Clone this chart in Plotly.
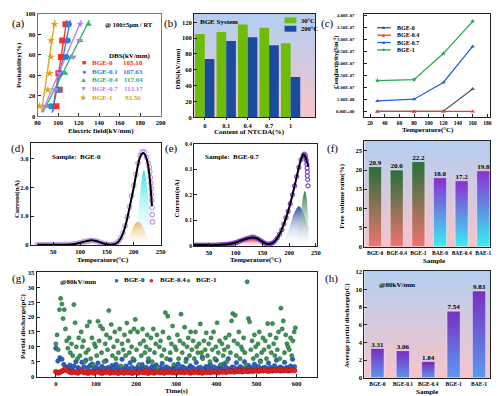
import plotly.graph_objects as go

W, H = 500, 396
FONT = "Liberation Serif"

# ================= DATA =================
# (a) Weibull distribution of breakdown strength
a_prob = [10, 26, 42, 58, 74, 90]
a_bge0 = [98.4, 101.6, 100.3, 102.8, 104.0, 107.2]
a_bge01 = [93.0, 101.0, 102.0, 108.0, 109.5, 110.5]
a_bge04 = [90.0, 98.4, 106.9, 112.8, 121.5, 129.7]
a_bge07 = [87.0, 96.9, 101.0, 115.0, 121.0, 121.5]
a_bge1 = [82.0, 90.0, 91.9, 92.8, 93.1, 96.6]
a_fit_prob = [4, 94]
a_fit_bge0 = [94.5, 108.5]
a_fit_bge01 = [94.4, 111.9]
a_fit_bge04 = [85.3, 130.6]
a_fit_bge07 = [84.4, 122.8]
a_fit_bge1 = [83.8, 96.9]
a_names = ["BGE-0", "BGE-0.1", "BGE-0.4", "BGE-0.7", "BGE-1"]
a_dbs = [105.18, 107.63, 117.04, 113.17, 93.56]

# (b) DBS at 30 / 200 C
b_content = ["0", "0.1", "0.4", "0.7", "1"]
b_30 = [105.18, 107.63, 117.04, 113.17, 93.56]
b_200 = [73.5, 96.5, 101.0, 91.0, 51.0]

# (c) conductivity
c_temp = [30, 80, 120, 160]
c_bge0 = [0.0, 0.0, 0.1e-8, 9.4e-8]
c_bge04 = [0.0, 0.0, 0.0, 0.0]
c_bge07 = [4.4e-8, 5.1e-8, 1.21e-7, 2.72e-7]
c_bge1 = [1.29e-7, 1.33e-7, 2.42e-7, 3.77e-7]
c_names = ["BGE-0", "BGE-0.4", "BGE-0.7", "BGE-1"]
c_tickvals = [0, 5e-8, 1e-7, 1.5e-7, 2e-7, 2.5e-7, 3e-7, 3.5e-7, 4e-7]
c_ticktext = ["0.00E+00", "5.00E-08", "1.00E-07", "1.50E-07", "2.00E-07",
              "2.50E-07", "3.00E-07", "3.50E-07", "4.00E-07"]

# (d) TSDC BGE-0
d_T = [20, 24, 28, 32, 36, 40, 44, 48, 52, 56, 60, 64, 68, 72, 76, 80, 84, 88, 92, 96,
       100, 104, 108, 112, 116, 120, 124, 128, 132, 136, 140, 144, 148, 152, 156, 160,
       164, 168, 172, 176, 180, 184, 188, 192, 196, 200, 204, 208, 212, 216, 220, 224,
       227, 229, 230, 231, 232, 232.5, 233, 233.5, 234, 234.5, 235]
d_I = [0, 0, 0, 0, 0, 0, 0, 0, 0, 0, 0, 0.003, 0.005, 0.006, 0.008, 0.01, 0.015, 0.025, 0.035, 0.05,
       0.07, 0.09, 0.11, 0.125, 0.14, 0.155, 0.15, 0.14, 0.12, 0.095, 0.07, 0.045, 0.025, 0.015, 0.01, 0.01,
       0.025, 0.06, 0.13, 0.25, 0.42, 0.66, 0.98, 1.33, 1.7, 2.06, 2.45, 2.85, 3.12, 3.25, 3.24, 3.05,
       2.85, 2.7, 2.55, 2.35, 2.15, 1.95, 1.75, 1.55, 1.3, 1.05, 0.8]
d_fit_T = [20, 40, 60, 70, 80, 90, 100, 110, 115, 120, 125, 130, 140, 150, 160, 165, 170, 175,
           180, 185, 190, 195, 200, 205, 210, 214, 218, 222, 226, 230, 234]
d_fit_I = [0, 0, 0, 0.005, 0.01, 0.03, 0.07, 0.12, 0.14, 0.155, 0.15, 0.13, 0.07, 0.02, 0.01, 0.03, 0.08, 0.2,
           0.4, 0.7, 1.1, 1.55, 2.0, 2.5, 2.95, 3.15, 3.2, 3.1, 2.85, 2.3, 1.35]
d_pk_orange_T = [172, 178, 184, 190, 196, 202, 208, 214, 220, 226, 232, 235]
d_pk_orange_I = [0.01, 0.035, 0.11, 0.26, 0.49, 0.71, 0.8, 0.71, 0.49, 0.26, 0.11, 0.06]
d_pk_cyan_T = [190, 194, 198, 202, 206, 210, 214, 217, 219, 222, 226, 230, 233]
d_pk_cyan_I = [0, 0.02, 0.08, 0.27, 0.69, 1.38, 2.14, 2.52, 2.6, 2.42, 1.77, 1.01, 0.56]

# (e) TSDC BGE-0.7
e_T = [22, 26, 30, 34, 38, 42, 46, 50, 54, 58, 62, 66, 70, 74, 78, 82, 86, 90, 94, 98,
       102, 106, 110, 114, 118, 122, 126, 130, 134, 138, 142, 146, 150, 154, 158, 162,
       166, 170, 174, 178, 182, 186, 190, 194, 198, 202, 206, 210, 214, 218, 222, 226,
       228, 230, 231, 232, 233, 233.5, 234, 234, 234.5, 235]
e_I = [0.002, 0.002, 0.002, 0.002, 0.002, 0.002, 0.002, 0.002, 0.002, 0.002, 0.002, 0.003, 0.003, 0.0035,
       0.004, 0.005, 0.006, 0.007, 0.009, 0.011, 0.013, 0.017, 0.02, 0.023, 0.026, 0.029, 0.031, 0.033,
       0.033, 0.03, 0.026, 0.021, 0.015, 0.01, 0.007, 0.006, 0.008, 0.012, 0.02, 0.031, 0.045, 0.062,
       0.085, 0.11, 0.135, 0.165, 0.2, 0.235, 0.272, 0.308, 0.338, 0.355,
       0.36, 0.355, 0.345, 0.335, 0.32, 0.305, 0.29, 0.275, 0.26, 0.235]
e_fit_T = [22, 40, 60, 70, 80, 90, 100, 110, 120, 125, 130, 135, 140, 145, 150, 155, 160, 165, 170,
           175, 180, 185, 190, 195, 200, 205, 210, 215, 220, 224, 227, 230, 233, 236]
e_fit_I = [0.002, 0.002, 0.002, 0.003, 0.004, 0.007, 0.012, 0.02, 0.027, 0.03, 0.032, 0.031, 0.028,
           0.022, 0.015, 0.009, 0.006, 0.007, 0.012, 0.022, 0.038, 0.058, 0.085, 0.115, 0.15, 0.19,
           0.235, 0.28, 0.325, 0.35, 0.358, 0.35, 0.33, 0.31]
e_pk_red_T = [90, 100, 110, 120, 130, 140, 150, 160, 170]
e_pk_red_I = [0.0013, 0.005, 0.014, 0.025, 0.03, 0.025, 0.014, 0.005, 0.0013]
e_pk_blue_T = [170, 178, 186, 194, 202, 210, 218, 224, 230, 236]
e_pk_blue_I = [0.0004, 0.0026, 0.011, 0.036, 0.081, 0.132, 0.155, 0.141, 0.107, 0.068]
e_pk_green_T = [205, 210, 215, 220, 224, 229, 232, 235, 237]
e_pk_green_I = [0.0006, 0.005, 0.029, 0.094, 0.167, 0.215, 0.196, 0.12, 0.03]

# (f) free volume ratio
f_samples = ["BGE-0", "BGE-0.4", "BGE-1", "BAE-0", "BAE-0.4", "BAE-1"]
f_ratio = [20.9, 20.0, 22.2, 18.0, 17.2, 19.8]

# (g) partial discharge vs time (sampling step in seconds)
g_dt_bge0 = 5
g_bge0 = [
    9.5, 5.2, 6.3, 5.8, 4.0, 3.2, 2.6, 3.8, 2.8, 3.5, 5.0, 3.0, 2.5, 4.8, 3.3, 5.5, 2.9, 3.6, 4.2, 2.7,
    3.1, 4.5, 2.6, 3.4, 2.8, 5.3, 3.0, 2.5, 3.7, 2.9, 4.1, 2.6, 3.2, 5.8, 2.8, 3.5, 2.7, 4.6, 3.0, 5.5,
    2.6, 3.3, 2.9, 4.0, 2.7, 3.1, 5.0, 2.6, 3.4, 2.8, 3.9, 2.5, 3.0, 4.4, 2.7, 3.2, 2.9, 5.6, 2.6, 3.5,
    2.8, 4.2, 2.6, 3.3, 2.9, 5.8, 2.7, 3.6, 3.0, 2.6, 4.7, 2.8, 3.1, 6.5, 2.7, 3.4, 2.9, 4.0, 2.6, 3.2,
    5.5, 2.8, 3.5, 2.7, 4.3, 3.0, 6.0, 2.6, 3.2, 2.9, 4.6, 2.7, 3.3, 2.8, 5.0, 2.6, 3.7, 3.0, 2.7, 4.1,
    2.9, 3.4, 5.2, 2.7, 3.1, 2.8, 4.5, 3.0, 2.6, 3.6, 5.5, 2.8, 3.2, 2.7, 4.8, 3.0, 2.9, 3.5, 5.8, 3.3,
]
g_dt_bge04 = 5
g_bge04 = [
    1.6, 1.2, 1.4, 1.8, 2.2, 2.5, 1.9, 1.5, 1.3, 1.7, 1.4, 1.2, 1.6, 1.9, 1.3, 1.5, 1.1, 1.7, 1.4, 1.2,
    1.5, 1.8, 1.3, 1.1, 1.6, 1.4, 1.9, 1.2, 1.5, 1.3, 1.7, 1.1, 1.4, 1.6, 1.2, 1.8, 1.3, 1.5, 1.1, 1.6,
    1.4, 1.2, 1.7, 1.5, 1.3, 1.9, 1.1, 1.6, 1.4, 1.2, 1.8, 1.5, 1.3, 1.7, 1.2, 1.6, 1.4, 1.9, 1.3, 1.5,
    1.2, 1.7, 1.4, 1.6, 1.3, 1.8, 1.5, 1.2, 1.6, 1.4, 1.9, 1.3, 1.5, 1.2, 1.7, 1.4, 1.6, 1.3, 1.8, 1.5,
    1.6, 1.3, 1.8, 1.5, 1.7, 1.4, 1.9, 1.6, 1.8, 1.5, 2.0, 1.7, 1.9, 1.6, 2.1, 1.8, 1.7, 2.0, 1.8, 1.9,
    2.0, 1.8, 2.1, 1.9, 2.2, 2.0, 1.8, 2.1, 1.9, 2.2, 2.0, 2.3, 1.9, 2.1, 2.0, 2.2, 1.9, 2.1, 2.3, 2.0,
]
g_dt_bge1 = 3
g_bge1 = [
    11, 14, 9, 22.5, 26.3, 24.4, 19.5, 22.5, 16, 12, 9.5, 13, 8, 11, 7, 24.2, 18.1, 10, 6, 13,
    7, 15, 10, 12, 5, 8, 17, 9, 18.4, 6, 13, 4, 11, 10, 7, 18.6, 12, 17, 8, 16,
    5, 11, 14, 9, 22.2, 13, 17.5, 7, 10, 15, 6, 12, 8, 16, 3.5, 11, 9, 14, 7, 18,
    12, 8, 15, 10, 6, 16, 19.2, 9, 15, 4, 11, 7, 16, 12, 8, 10, 14, 6, 9, 13,
    5, 16, 8, 11, 14, 3, 10, 12, 7, 15, 9, 21.5, 6, 20.3, 13, 8, 11, 17, 4, 10,
    9, 14, 6, 12, 21, 8, 11, 16.6, 5, 10, 13, 7, 15, 9, 12, 6, 15, 10, 8, 11,
    17.7, 8, 6, 12, 9, 14.7, 7, 11, 5, 13, 9, 15, 6, 10, 18.1, 8, 12, 4, 11, 7,
    9, 13, 5, 10, 14, 8, 18.7, 21.2, 12, 20.6, 7, 11, 15, 6, 10, 9, 13, 8, 4, 31.9,
    19.5, 18.4, 9, 12, 6, 14, 10, 7, 11, 15, 5, 8, 13, 9, 12, 6, 17.8, 10, 14, 8,
    17.8, 11, 7, 13, 9, 15, 6, 23, 16, 18.7, 8, 14, 11, 10, 9, 13, 7, 12, 15, 16.4,
]

# (h) average partial discharge
h_samples = ["BGE-0", "BGE-0.1", "BGE-0.4", "BGE-1", "BAE-1"]
h_pd = [3.31, 3.06, 1.84, 7.54, 9.83]

# ================= FIGURE =================
fig = go.Figure()


def px_x(x):
    return x / W


def px_y(y):
    return 1 - y / H


def ids(n):
    return ("x" if n == 1 else f"x{n}"), ("y" if n == 1 else f"y{n}")


TICKFONT = dict(family=FONT, size=6.5, color="black", weight="bold")


def axis_common():
    return dict(showline=True, mirror=True, linecolor="#222", linewidth=1,
                ticks="inside", ticklen=3, tickwidth=1, tickcolor="#222",
                showgrid=False, zeroline=False, tickfont=dict(TICKFONT))


axes_layout = {}
RANGES = {}


def make_axes(n, box, xr, yr, xkw=None, ykw=None):
    x0, y0, x1, y1 = box
    xa = axis_common()
    ya = axis_common()
    xid, yid = ids(n)
    xa.update(domain=[px_x(x0), px_x(x1)], range=xr, anchor=yid)
    ya.update(domain=[px_y(y1), px_y(y0)], range=yr, anchor=xid)
    if xkw:
        xa.update(xkw)
    if ykw:
        ya.update(ykw)
    axes_layout["xaxis" if n == 1 else f"xaxis{n}"] = xa
    axes_layout["yaxis" if n == 1 else f"yaxis{n}"] = ya
    RANGES[n] = (xr, yr)


def ann(text, x, y, size=7, color="black", bold=True, xanchor="center", angle=0):
    fig.add_annotation(text=text, x=px_x(x), y=px_y(y), xref="paper", yref="paper",
                       showarrow=False, xanchor=xanchor, yanchor="middle", textangle=angle,
                       font=dict(family=FONT, size=size, color=color,
                                 weight="bold" if bold else "normal"))


def background(n, c_bottom, c_top):
    xr, yr = RANGES[n]
    xid, yid = ids(n)
    fig.add_trace(go.Scatter(
        x=[xr[0], xr[1], xr[1], xr[0], xr[0]], y=[yr[0], yr[0], yr[1], yr[1], yr[0]],
        fill="toself", mode="lines", line=dict(width=0, color="rgba(0,0,0,0)"),
        fillgradient=dict(type="vertical", colorscale=[[0, c_bottom], [1, c_top]],
                          start=yr[0], stop=yr[1]),
        hoverinfo="skip", showlegend=False, xaxis=xid, yaxis=yid))


def grad_bar(n, x_left, w, v, c_bottom, c_top, edge="rgba(255,255,255,0.7)"):
    xid, yid = ids(n)
    fig.add_trace(go.Scatter(
        x=[x_left, x_left + w, x_left + w, x_left, x_left], y=[0, 0, v, v, 0],
        fill="toself", mode="lines", line=dict(width=0.6, color=edge),
        fillgradient=dict(type="vertical", colorscale=[[0, c_bottom], [1, c_top]], start=0, stop=v),
        hoverinfo="skip", showlegend=False, xaxis=xid, yaxis=yid))


def grad_peak(n, T, I, color):
    xid, yid = ids(n)
    fig.add_trace(go.Scatter(
        x=T, y=I, fill="tozeroy", mode="lines", line=dict(width=0, color="rgba(0,0,0,0)"),
        line_shape="spline",
        fillgradient=dict(type="vertical", colorscale=[[0, "rgba(255,255,255,0)"], [1, color]],
                          start=0, stop=max(I)),
        hoverinfo="skip", showlegend=False, xaxis=xid, yaxis=yid))


# ---------- axes ----------
make_axes(1, (27, 3, 152, 107), [80, 200], [0, 100],
          dict(dtick=20, tick0=80), dict(dtick=20, tick0=0))
make_axes(2, (186, 3, 309, 108), [-0.5, 5.14], [0, 130.5],
          dict(tickvals=list(range(len(b_content))), ticktext=b_content, ticks="outside", ticklen=2),
          dict(dtick=20, tick0=0))
make_axes(3, (359, 3, 487, 108), [12, 184], [-0.25e-7, 4.08e-7],
          dict(dtick=20, tick0=20, tickfont=dict(TICKFONT, size=5.5)),
          dict(tickvals=c_tickvals, ticktext=c_ticktext, tickfont=dict(TICKFONT, size=4.6),
               ticklabelstandoff=8))
make_axes(4, (20, 134, 152, 238), [8, 250], [-0.02, 3.55],
          dict(tickvals=[50, 100, 150, 200, 250]),
          dict(tickvals=[0, 1, 2, 3], ticktext=["0", "1.0", "2.0", "3.0"]))
make_axes(5, (186, 135, 311, 239), [22, 252], [-0.003, 0.4],
          dict(tickvals=[50, 100, 150, 200, 250]),
          dict(tickvals=[0, 0.1, 0.2, 0.3, 0.4], ticktext=["0", "0.1", "0.2", "0.3", "0.4"],
               tickfont=dict(TICKFONT, size=5.5)))
make_axes(6, (359, 132, 487, 240), [-0.5, 5.32], [-0.2, 27.6],
          dict(tickvals=list(range(len(f_samples))), ticktext=f_samples, ticks="", tickangle=0,
               tickfont=dict(TICKFONT, size=5.5)),
          dict(dtick=5, tick0=0))
make_axes(7, (26, 265, 311, 372), [-48, 651], [-0.3, 35.2],
          dict(dtick=100, tick0=0), dict(dtick=5, tick0=0))
make_axes(8, (359, 264, 487, 373), [-0.52, 4.44], [-0.08, 12.1],
          dict(tickvals=list(range(len(h_samples))), ticktext=h_samples, ticks="", tickangle=0,
               tickfont=dict(TICKFONT, size=5.5)),
          dict(dtick=2, tick0=0))
axes_layout["xaxis"]["linecolor"] = "#777"
axes_layout["yaxis"]["linecolor"] = "#777"

# ---------- (a) ----------
a_series = [
    (a_bge0, a_fit_bge0, "#ff2a2a", "square", "■"),
    (a_bge01, a_fit_bge01, "#2a7de1", "circle", "●"),
    (a_bge04, a_fit_bge04, "#2eb36e", "triangle-up", "▲"),
    (a_bge07, a_fit_bge07, "#b77ef0", "triangle-down", "▼"),
    (a_bge1, a_fit_bge1, "#d9a520", "star", "★"),
]
for vals, fit, col, sym, glyph in a_series:
    fig.add_trace(go.Scatter(x=fit, y=a_fit_prob, mode="lines", line=dict(color=col, width=1.3),
                             showlegend=False, xaxis="x", yaxis="y"))
for vals, fit, col, sym, glyph in a_series:
    fig.add_trace(go.Scatter(x=vals, y=a_prob, mode="markers",
                             marker=dict(symbol=sym, size=6, color=col, line=dict(width=0)),
                             showlegend=False, xaxis="x", yaxis="y"))
ann("@ 100±5μm / RT", 120, 14, size=6.5)
ann("DBS(kV/mm)", 121, 46, size=7)
for i, (name, dbs, ser) in enumerate(zip(a_names, a_dbs, a_series)):
    yy = 53 + i * 8.75
    ann(ser[4], 74, yy, size=7, color=ser[2])
    ann(name, 80, yy, size=7, color=ser[2], xanchor="left")
    ann(f"{dbs:.2f}", 124, yy, size=7, color=ser[2])

# ---------- (b) ----------
background(2, "#f7c4ca", "#b2cff3")
for i, (v30, v200) in enumerate(zip(b_30, b_200)):
    grad_bar(2, i - 0.45, 0.45, v30, "#6cbc08", "#6cbc08", edge="rgba(0,0,0,0)")
    grad_bar(2, i, 0.45, v200, "#1b4b9c", "#1b4b9c", edge="rgba(0,0,0,0)")
ann("BGE System", 211, 11, size=7)
fig.add_shape(type="rect", xref="paper", yref="paper", x0=px_x(278), x1=px_x(290),
              y0=px_y(12.5), y1=px_y(6.5), fillcolor="#6cbc08", line=dict(width=0))
fig.add_shape(type="rect", xref="paper", yref="paper", x0=px_x(278), x1=px_x(290),
              y0=px_y(21), y1=px_y(15), fillcolor="#1b4b9c", line=dict(width=0))
ann("30°C", 293, 10, size=6.5, xanchor="left")
ann("200°C", 293, 18, size=6.5, xanchor="left")

# ---------- (c) ----------
c_series = [
    (c_bge0, "#555555", "triangle-up"),
    (c_bge04, "#ec3b3b", "triangle-up"),
    (c_bge07, "#1f62e0", "triangle-up"),
    (c_bge1, "#2ca35a", "star"),
]
for vals, col, sym in c_series:
    fig.add_trace(go.Scatter(x=c_temp, y=vals, mode="lines+markers",
                             line=dict(color=col, width=1.3),
                             marker=dict(symbol=sym, size=4, color=col),
                             showlegend=False, xaxis="x3", yaxis="y3"))
for i, (name, ser) in enumerate(zip(c_names, c_series)):
    yy = 17 + i * 7.5
    fig.add_shape(type="line", xref="paper", yref="paper", x0=px_x(372), x1=px_x(386),
                  y0=px_y(yy), y1=px_y(yy), line=dict(color=ser[1], width=1.3))
    ann("▲", 379, yy, size=5, color=ser[1])
    ann(name, 390, yy, size=6, xanchor="left")

# ---------- (d) ----------
grad_peak(4, d_pk_orange_T, d_pk_orange_I, "rgba(245,170,70,0.95)")
grad_peak(4, d_pk_cyan_T, d_pk_cyan_I, "rgba(40,225,240,0.95)")
fig.add_trace(go.Scatter(x=d_T, y=d_I, mode="markers",
                         marker=dict(symbol="circle-open", size=4.5, color="#c39be9",
                                     line=dict(width=1.2)),
                         showlegend=False, xaxis="x4", yaxis="y4"))
fig.add_trace(go.Scatter(x=d_fit_T, y=d_fit_I, mode="lines", line=dict(color="black", width=2),
                         line_shape="spline", showlegend=False, xaxis="x4", yaxis="y4"))
ann("Sample:  BGE-0", 40, 148, size=7, xanchor="left")

# ---------- (e) ----------
grad_peak(5, e_pk_red_T, e_pk_red_I, "rgba(230,50,50,0.9)")
grad_peak(5, e_pk_blue_T, e_pk_blue_I, "rgba(50,80,165,0.95)")
grad_peak(5, e_pk_green_T, e_pk_green_I, "rgba(40,120,70,0.95)")
fig.add_trace(go.Scatter(x=e_T, y=e_I, mode="markers",
                         marker=dict(symbol="circle-open", size=4, color="#8c3fe0",
                                     line=dict(width=1.2)),
                         showlegend=False, xaxis="x5", yaxis="y5"))
fig.add_trace(go.Scatter(x=e_fit_T, y=e_fit_I, mode="lines", line=dict(color="black", width=2),
                         line_shape="spline", showlegend=False, xaxis="x5", yaxis="y5"))
ann("Sample:  BGE-0.7", 195, 148, size=7, xanchor="left")

# ---------- (f) ----------
background(6, "#f8c3c8", "#b5cff1")
for i, (s, v) in enumerate(zip(f_samples, f_ratio)):
    if s.startswith("BGE"):
        grad_bar(6, i - 0.3, 0.6, v, "#f27473", "#27703c")
    else:
        grad_bar(6, i - 0.3, 0.6, v, "#36f3f3", "#8a2fd3")
fig.add_trace(go.Scatter(x=list(range(len(f_ratio))), y=f_ratio, mode="text",
                         text=[f"{v:.1f}" for v in f_ratio], textposition="top center",
                         textfont=dict(family=FONT, size=7, color="black", weight="bold"),
                         cliponaxis=False, showlegend=False, xaxis="x6", yaxis="y6"))

# ---------- (g) ----------
fig.add_trace(go.Scatter(y=g_bge0, x0=0, dx=g_dt_bge0, mode="markers",
                         marker=dict(size=4.5, color="#2a62c9", line=dict(width=0.5, color="#173f8a")),
                         showlegend=False, xaxis="x7", yaxis="y7"))
fig.add_trace(go.Scatter(y=g_bge04, x0=0, dx=g_dt_bge04, mode="markers",
                         marker=dict(size=5, color="#e52525", line=dict(width=0.5, color="#a01010")),
                         showlegend=False, xaxis="x7", yaxis="y7"))
fig.add_trace(go.Scatter(y=g_bge1, x0=0, dx=g_dt_bge1, mode="markers",
                         marker=dict(size=4.2, color="#3d9455", line=dict(width=0.5, color="#1f5e32")),
                         showlegend=False, xaxis="x7", yaxis="y7"))
ann("@80kV/mm", 48, 275, size=7, xanchor="left")
g_leg = [("BGE-0", "#2a62c9", 107), ("BGE-0.4", "#e52525", 143), ("BGE-1", "#3d9455", 180)]
for name, col, xx in g_leg:
    ann("●", xx, 273.5, size=8, color=col)
    ann(name, xx + 6, 273.5, size=7, xanchor="left")

# ---------- (h) ----------
background(8, "#f8c3c8", "#b5cff1")
for i, v in enumerate(h_pd):
    grad_bar(8, i - 0.26, 0.52, v, "#5a9cf2", "#7a2fc2")
fig.add_trace(go.Scatter(x=list(range(len(h_pd))), y=h_pd, mode="text",
                         text=[f"{v:.2f}" for v in h_pd], textposition="top center",
                         textfont=dict(family=FONT, size=7, color="black", weight="bold"),
                         cliponaxis=False, showlegend=False, xaxis="x8", yaxis="y8"))
ann("@80kV/mm", 372, 278, size=7, xanchor="left")

# ---------- titles ----------
ann("Probability(%)", 8, 55, size=7, angle=-90)
ann("Electric field(kV/mm)", 91, 122, size=7)
ann("DBS(kV/mm)", 170, 58, size=7, angle=-90)
ann("Content of NTCDA(%)", 242, 123, size=7)
ann("Conductivity(Sm<sup>-1</sup>)", 330, 52, size=6.5, angle=-90)
ann("Temperature(°C)", 424, 121, size=7)
ann("Current(nA)", 6, 190, size=7, angle=-90)
ann("Temperature(°C)", 93, 253, size=7)
ann("Current(nA)", 169, 190, size=7, angle=-90)
ann("Temperature(°C)", 249, 253, size=7)
ann("Free volume ratio(%)", 337, 188, size=7, angle=-90)
ann("Sample", 430, 254, size=7)
ann("Partial discharge(pC)", 12, 320, size=7, angle=-90)
ann("Time(s)", 168, 386, size=7)
ann("Average partial discharge(pC)", 342, 320, size=6.5, angle=-90)
ann("Sample", 423, 387, size=7)

for lab, xx, yy in [("(a)", 8, 13), ("(b)", 162, 13), ("(c)", 322, 13), ("(d)", 7, 140),
                    ("(e)", 163, 140), ("(f)", 327, 140), ("(g)", 8, 272), ("(h)", 326, 272)]:
    ann(lab, xx, yy, size=11, bold=False)

fig.update_layout(width=W, height=H, margin=dict(l=0, r=0, t=0, b=0),
                  paper_bgcolor="white", plot_bgcolor="white", showlegend=False,
                  **axes_layout)

fig.write_html("out.html")
